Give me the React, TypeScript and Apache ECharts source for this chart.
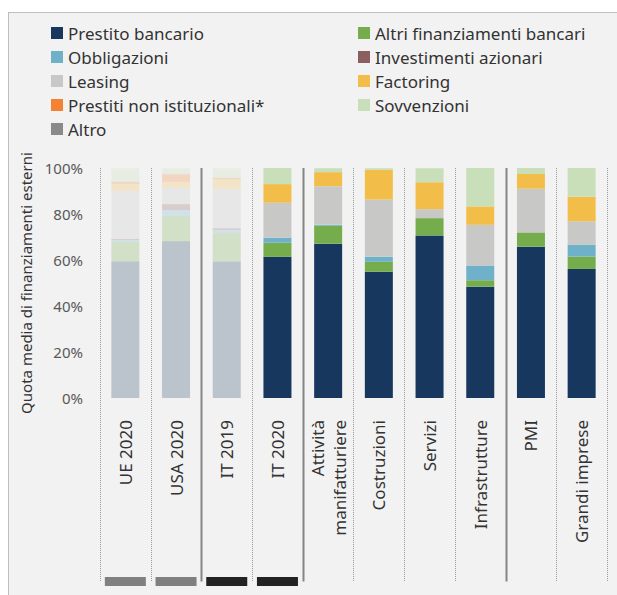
import React, { useEffect, useRef } from "react";
import * as echarts from "echarts";

const categories = [
  "UE 2020",
  "USA 2020",
  "IT 2019",
  "IT 2020",
  "Attività\nmanifatturiere",
  "Costruzioni",
  "Servizi",
  "Infrastrutture",
  "PMI",
  "Grandi imprese",
];

const seriesNames = [
  "Prestito bancario",
  "Altri finanziamenti bancari",
  "Obbligazioni",
  "Investimenti azionari",
  "Leasing",
  "Factoring",
  "Prestiti non istituzionali*",
  "Sovvenzioni",
  "Altro",
];

const seriesColors = [
  "#17375e",
  "#75ac4c",
  "#70b1ca",
  "#8b5f5f",
  "#c8c8c6",
  "#f2be49",
  "#f58232",
  "#c9dfb9",
  "#898a8c",
];

const prestitoBancario = [59.4, 68.1, 59.4, 61.4, 67.1, 54.9, 70.7, 48.4, 65.8, 56.1];
const altriFinanziamenti = [8.4, 11.0, 12.3, 6.1, 7.8, 4.3, 7.5, 2.8, 6.2, 5.4];
const obbligazioni = [0.9, 2.6, 1.4, 2.2, 0.4, 2.2, 0, 6.4, 0, 5.2];
const investimentiAzionari = [0.4, 2.6, 0.7, 0, 0, 0, 0, 0, 0, 0];
const leasing = [21.0, 7.2, 17.1, 15.2, 16.8, 24.9, 3.9, 17.7, 19.0, 10.1];
const factoring = [3.0, 2.5, 4.2, 8.1, 6.1, 12.9, 11.7, 8.0, 6.4, 10.7];
const prestitiNonIstituzionali = [0.9, 3.3, 0.6, 0, 0, 0, 0, 0, 0, 0];
const sovvenzioni = [5.9, 2.6, 4.2, 7.0, 1.7, 0.7, 6.1, 16.8, 2.6, 12.5];
const altro = [0, 0, 0, 0, 0, 0, 0, 0, 0, 0];

const seriesValues = [
  prestitoBancario,
  altriFinanziamenti,
  obbligazioni,
  investimentiAzionari,
  leasing,
  factoring,
  prestitiNonIstituzionali,
  sovvenzioni,
  altro,
];

// categories drawn faded (comparison benchmarks)
const fadedCategories = [0, 1, 2];

// indicator strip below the labels
const indicatorValues = [1, 1, 1, 1, 0, 0, 0, 0, 0, 0];
const indicatorColors = ["#808080", "#808080", "#222222", "#222222"];

// boundaries (between category k-1 and k) drawn as solid separators
const solidBoundaries = [2, 4, 8];

const yTicks = [0, 20, 40, 60, 80, 100];

const FONT = "Noto Sans";

export default function App() {
  const ref = useRef<HTMLDivElement>(null);

  useEffect(() => {
    if (!ref.current) return;
    const chart = echarts.init(ref.current, undefined, { renderer: "svg" });

    const barSeries = seriesNames.map((name, si) => ({
      name,
      type: "bar",
      stack: "total",
      xAxisIndex: 0,
      yAxisIndex: 0,
      barWidth: 28,
      color: seriesColors[si],
      emphasis: { disabled: true },
      data: seriesValues[si].map((v, ci) => ({
        value: v,
        itemStyle: { opacity: fadedCategories.includes(ci) ? 0.25 : 1 },
      })),
    }));

    const indicatorSeries = {
      name: "indicator",
      type: "bar",
      xAxisIndex: 1,
      yAxisIndex: 1,
      barWidth: 41,
      silent: true,
      data: indicatorValues.map((v, i) => ({
        value: v,
        itemStyle: { color: indicatorColors[i] || "transparent" },
      })),
    };

    const legendCol1 = [seriesNames[0], seriesNames[2], seriesNames[4], seriesNames[6], seriesNames[8]];
    const legendCol2 = [seriesNames[1], seriesNames[3], seriesNames[5], seriesNames[7]];

    const legendBase = {
      orient: "vertical",
      top: 24,
      padding: 0,
      itemWidth: 12,
      itemHeight: 12,
      itemGap: 6,
      icon: "rect",
      selectedMode: false,
      textStyle: { color: "#333333", fontSize: 17, lineHeight: 18, fontFamily: FONT },
    };

    chart.setOption({
      animation: false,
      textStyle: { fontFamily: FONT },
      legend: [
        { ...legendBase, left: 51, data: legendCol1 },
        { ...legendBase, left: 358, data: legendCol2 },
      ],
      grid: [
        { left: 100, right: 10, top: 168, bottom: 197 },
        { left: 100, right: 10, top: 577, height: 9 },
      ],
      xAxis: [
        {
          type: "category",
          gridIndex: 0,
          data: categories,
          axisLine: { show: false },
          axisTick: { show: false },
          axisLabel: {
            interval: 0,
            rotate: 90,
            margin: 22,
            fontSize: 17,
            lineHeight: 22,
            color: "#333333",
            fontFamily: FONT,
          },
        },
        {
          type: "category",
          gridIndex: 1,
          data: categories,
          show: false,
        },
      ],
      yAxis: [
        {
          type: "value",
          gridIndex: 0,
          min: 0,
          max: 100,
          interval: 20,
          axisLine: { show: false },
          axisTick: { show: false },
          splitLine: { show: false },
          axisLabel: {
            formatter: "{value}%",
            color: "#595959",
            fontSize: 15,
            margin: 17,
            fontFamily: FONT,
          },
          name: "Quota media di finanziamenti esterni",
          nameLocation: "middle",
          nameGap: 58,
          nameTextStyle: { color: "#333333", fontSize: 15, fontFamily: FONT },
        },
        {
          type: "value",
          gridIndex: 1,
          min: 0,
          max: 1,
          show: false,
        },
      ],
      series: [...barSeries, indicatorSeries],
    });

    // separators computed through the axes
    const centers = categories.map((_, i) => chart.convertToPixel({ xAxisIndex: 0 }, i) as number);
    const band = centers[1] - centers[0];
    const yTop = chart.convertToPixel({ yAxisIndex: 0 }, yTicks[yTicks.length - 1]) as number;
    const yBottom = chart.convertToPixel({ yAxisIndex: 1 }, 0.5) as number;
    const lines: any[] = [];
    for (let k = 0; k <= categories.length; k++) {
      const x = Math.round(centers[0] - band / 2 + k * band) + 0.5;
      const solid = solidBoundaries.includes(k);
      lines.push({
        type: "line",
        silent: true,
        z: -1,
        shape: { x1: x, y1: yTop, x2: x, y2: yBottom },
        style: solid
          ? { stroke: "#858585", lineWidth: 2 }
          : { stroke: "#9a9a9a", lineWidth: 1, lineDash: [1, 1] },
      });
    }
    chart.setOption({ graphic: lines });

    return () => chart.dispose();
  }, []);

  return (
    <div style={{ position: "fixed", left: 0, top: 0, width: 617, height: 595, overflow: "hidden" }}>
      <div
        style={{
          position: "absolute",
          left: 8,
          top: 12,
          width: 609,
          height: 583,
          background: "#f2f2f2",
          borderLeft: "1px solid #bfbfbf",
          borderTop: "1px solid #bfbfbf",
          boxSizing: "border-box",
        }}
      />
      <div ref={ref} style={{ position: "absolute", left: 0, top: 0, width: 617, height: 595 }} />
    </div>
  );
}
